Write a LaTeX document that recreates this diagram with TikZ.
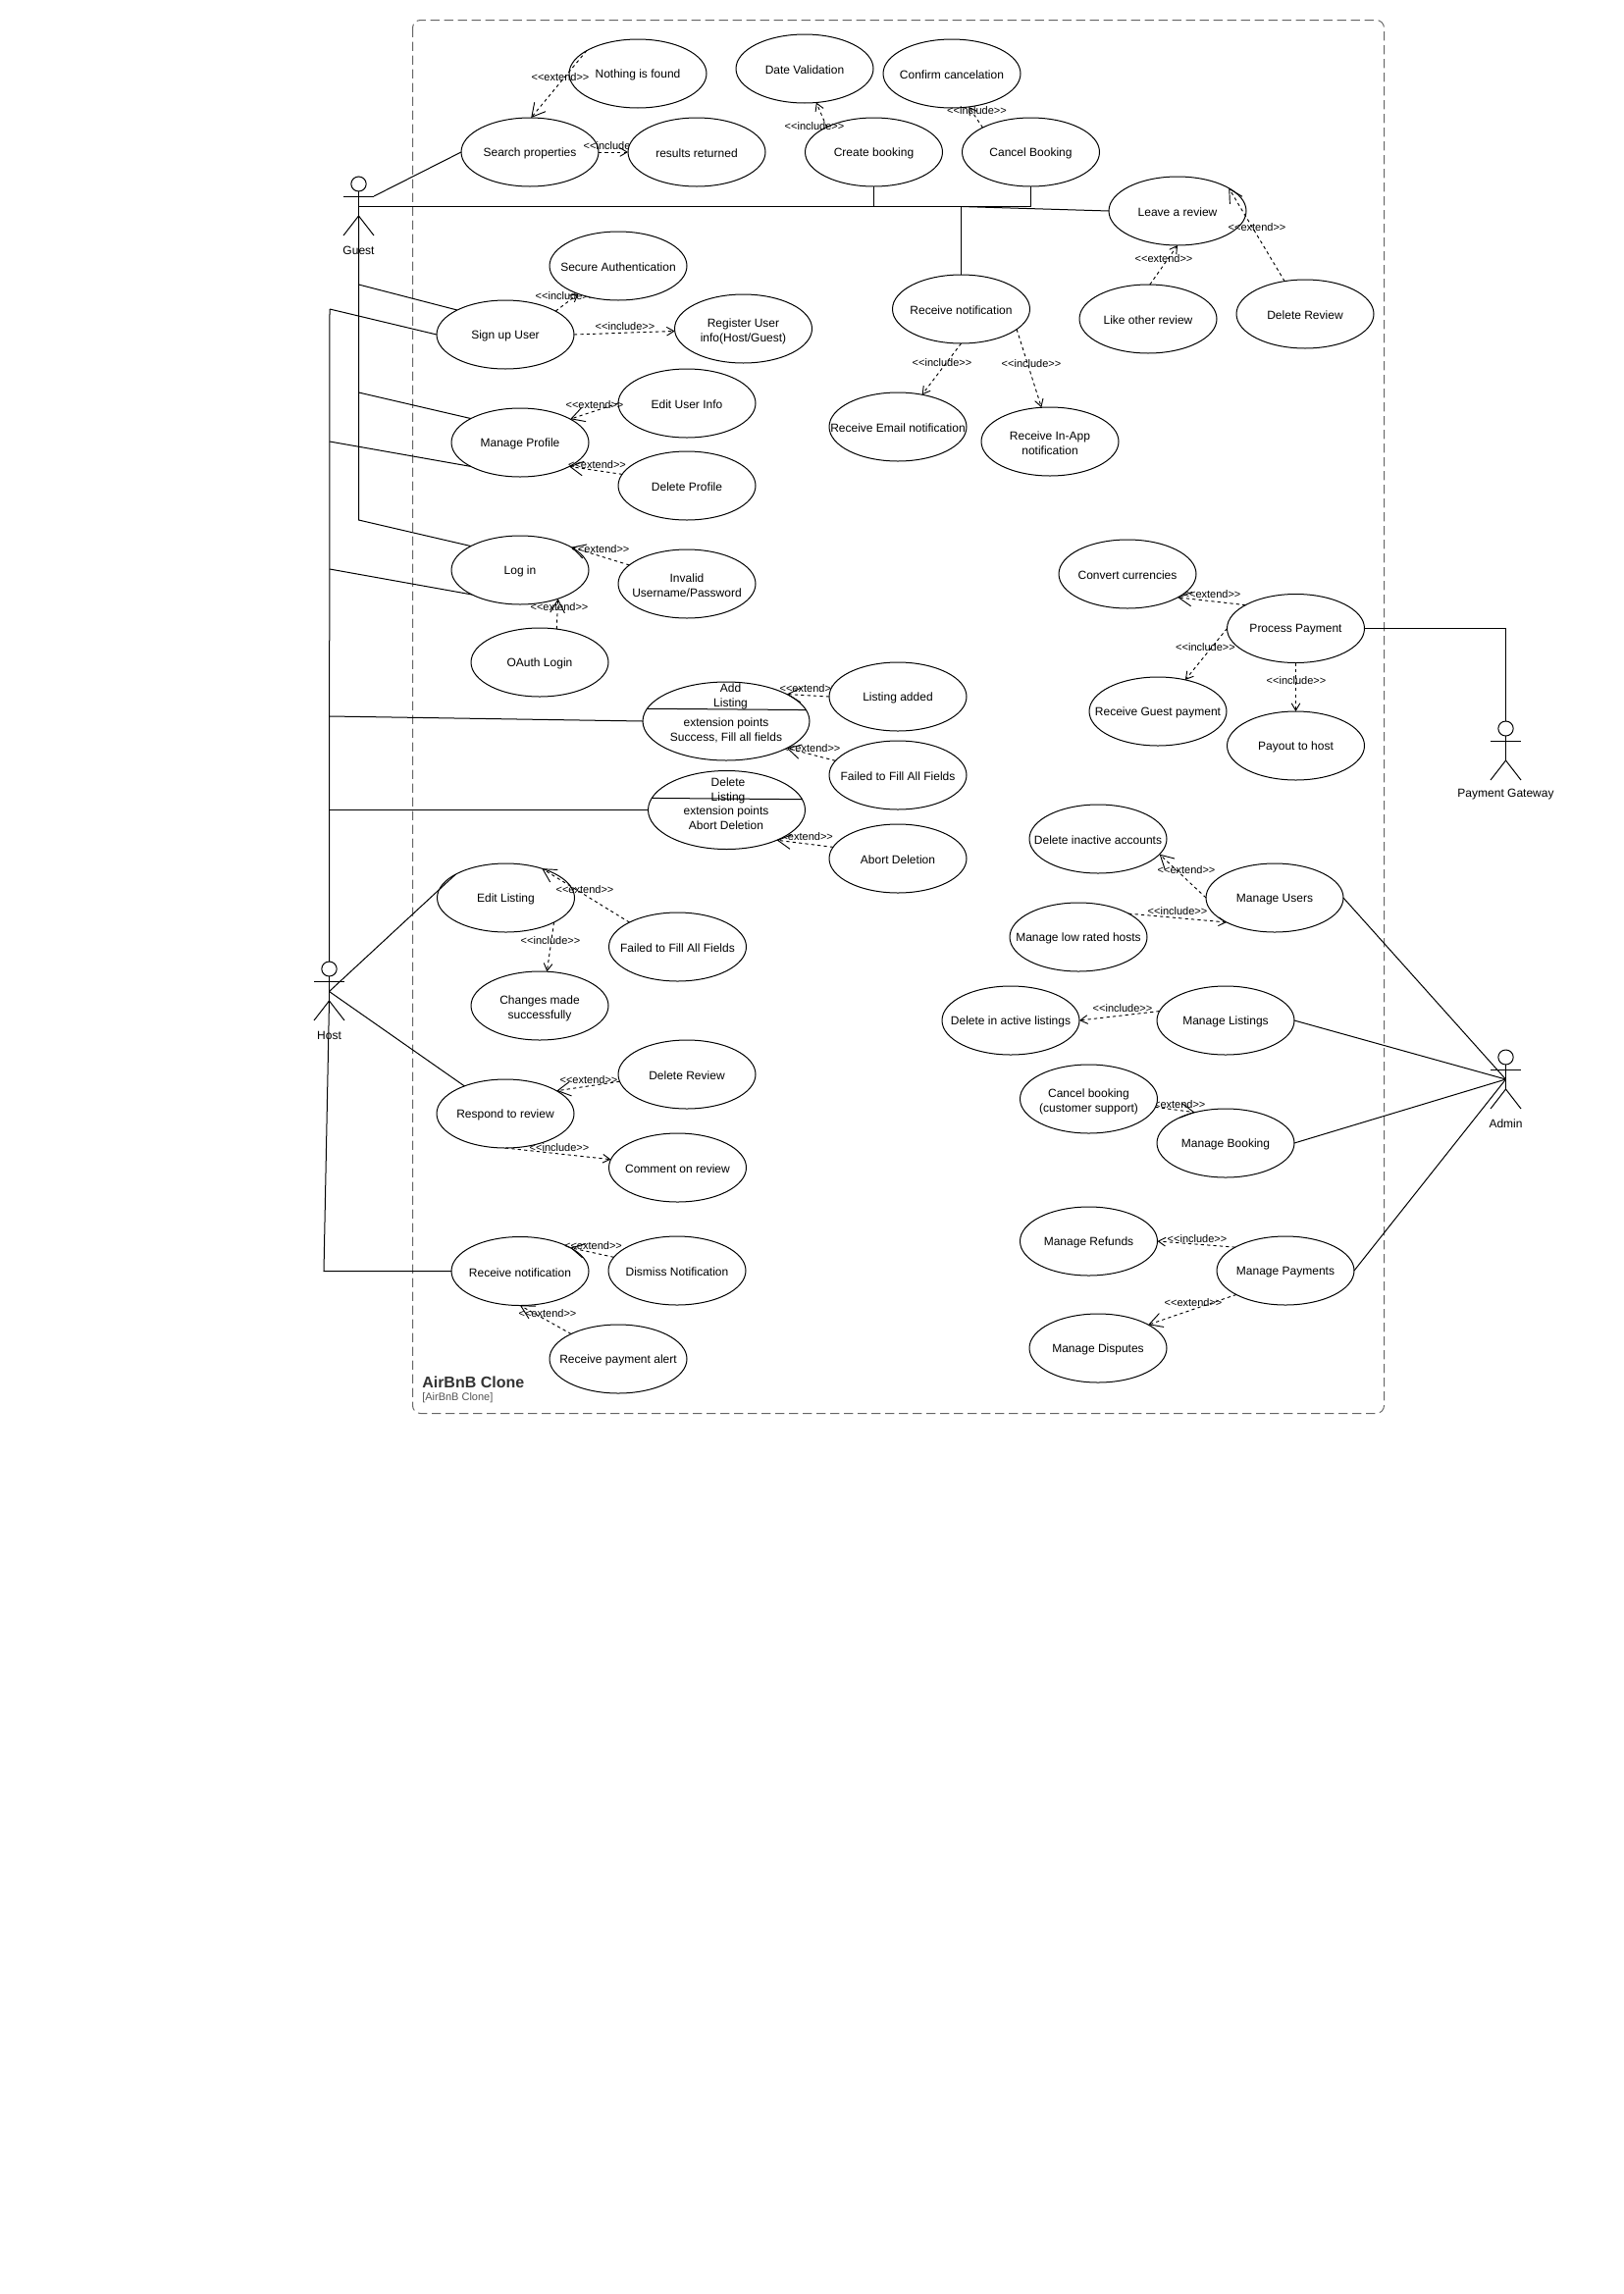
\documentclass[tikz,border=0pt]{standalone}
\usepackage{fontspec}
\setmainfont{Liberation Sans}
\usetikzlibrary{shapes.geometric,arrows.meta}
\definecolor{framegrey}{HTML}{666666}
\definecolor{titlegrey}{HTML}{333333}
\definecolor{subgrey}{HTML}{555555}
\newcommand\ucase[5][]{\node[ucshape,#1] (#2) at (#3,#4) {};
  \node[inner] (#2text) at (#3,#4+1.5) {#5};}
\newcommand\ucasetwo[6]{\node[ucshape] (#1) at (#2,#3) {};
  \node[inner] (#1text) at (#2,#3+3) {\begin{tabular}{@{}c@{}}#4\\#5\end{tabular}};}
\newcommand\lbl[4]{\node[stereo] (#1) at (#2,#3+1.5) {#4};}
\newcommand\ext{<\kern0pt<extend>\kern0pt>}
\newcommand\inc{<\kern0pt<include>\kern0pt>}
% name, centre x, top y, label
\newcommand\actorfig[4]{%
  \node[head] (#1head) at (#2,#3+7.5) {};
  \coordinate (#1neck) at (#2,#3+15);
  \coordinate (#1hip) at (#2,#3+40);
  \coordinate (#1armL) at (#2-15.5,#3+20);
  \coordinate (#1armR) at (#2+15.5,#3+20);
  \coordinate (#1legL) at (#2-15.5,#3+60);
  \coordinate (#1legR) at (#2+15.5,#3+60);
  \draw[solidline] (#1head.south) -- (#1hip);
  \draw[solidline] (#1armL) -- (#1armR);
  \draw[solidline] (#1legL) -- (#1hip) -- (#1legR);
  \node[actorlabel] (#1label) at (#2,#3+75) {#4};
}
\tikzset{
  solidline/.style={draw=black,line width=0.75pt},
  ucshape/.style={ellipse,draw=black,fill=white,line width=0.75pt,minimum width=105pt,minimum height=52.5pt,inner sep=0pt,outer sep=0pt},
  head/.style={ellipse,draw=black,fill=white,line width=0.75pt,minimum width=11.5pt,minimum height=11.25pt,inner sep=0pt,outer sep=0pt},
  actorlabel/.style={inner sep=0pt,font=\fontsize{9}{11.25}\selectfont},
  inner/.style={inner sep=0pt,font=\fontsize{9}{11.25}\selectfont},
  stereo/.style={inner sep=0pt,font=\fontsize{8.25}{10}\selectfont},
  dep/.style={draw=black,line width=0.7pt,dash pattern=on 2.4pt off 2.4pt},
  bigarrow/.style={dep,-{Straight Barb[length=10pt,width=11pt]}},
  smallarrow/.style={dep,-{Straight Barb[length=5.5pt,width=6.5pt]}},
  frame/.style={draw=framegrey,line width=0.75pt,dash pattern=on 7pt off 3.5pt,rounded corners=6pt},
}
\begin{document}
\begin{tikzpicture}[x=0.75pt,y=-0.75pt]
\useasboundingbox (0,0) rectangle (1654,2338);
\fill[white] (0,0) rectangle (1654,2338);
\draw[frame] (420.5,20.5) rectangle (1410.5,1440.5);
\node[inner sep=0pt,anchor=west,text=titlegrey,font=\bfseries\fontsize{12}{14}\selectfont] (title) at (430,1409) {AirBnB Clone};
\node[inner sep=0pt,anchor=west,text=subgrey,font=\fontsize{8.25}{10}\selectfont] (subtitle) at (430,1425) {[AirBnB Clone]};

% use cases (labels hidden in part by a later ellipse come just before it)
\ucase{nothing}{650}{75}{Nothing is found}
\ucase{date}{820}{70}{Date Validation}
\ucase{confirm}{970}{75}{Confirm cancelation}
\ucase{search}{540}{155}{Search properties}
\lbl{lresults}{625}{147}{\inc}
\ucase{results}{710}{155}{results returned}
\ucase{create}{890.5}{155}{Create booking}
\ucase{cancel}{1050.5}{155}{Cancel Booking}
\ucase{leave}{1200}{215}{Leave a review}
\ucase{recv}{979.5}{315}{Receive notification}
\ucase{like}{1170}{325}{Like other review}
\ucase{delrev}{1330}{320}{Delete Review}
\ucase{email}{915}{435}{Receive Email notification}
\ucasetwo{inapp}{1070}{450}{Receive In-App}{notification}{}
\lbl{lsecure}{576}{300}{\inc}
\ucase{secure}{630}{271}{Secure Authentication}
\ucase{signup}{515}{341}{Sign up User}
\ucasetwo{register}{757.5}{335}{Register User}{info(Host/Guest)}{}
\ucase{edituser}{700}{411}{Edit User Info}
\ucase{profile}{530}{451}{Manage Profile}
\ucase{delprofile}{700}{495}{Delete Profile}
\ucase{login}{530}{581}{Log in}
\ucasetwo{invalid}{700}{595}{Invalid}{Username/Password}{}
\ucase{oauth}{550}{675}{OAuth Login}
\lbl{lfailed}{827}{761}{\ext}
\ucase[minimum width=127.5pt,minimum height=60pt]{addl}{740}{735}{}
\lbl{ladded}{824}{700}{\ext}
\ucase{added}{915}{710}{Listing added}
\ucase{failed}{915}{790}{Failed to Fill All Fields}
\lbl{labort}{819.5}{851}{\ext}
\ucase[minimum width=120pt,minimum height=60pt]{dell}{740.5}{825.5}{}
\ucase{abort}{915}{875}{Abort Deletion}
\ucase{editl}{515.5}{915}{Edit Listing}
\ucase{failedb}{690.5}{965}{Failed to Fill All Fields}
\ucasetwo{changes}{550}{1025}{Changes made}{successfully}{}
\ucase{delrevb}{700}{1095}{Delete Review}
\ucase{respond}{515}{1135}{Respond to review}
\ucase{comment}{690.5}{1190}{Comment on review}
\ucase{recvb}{530}{1295.5}{Receive notification}
\ucase{dismiss}{690}{1295}{Dismiss Notification}
\ucase{alert}{630}{1385}{Receive payment alert}
\lbl{lconvert}{1235}{604}{\ext}
\ucase{convert}{1149}{585}{Convert currencies}
\ucase{process}{1320.5}{640.5}{Process Payment}
\ucase{guestpay}{1180}{725}{Receive Guest payment}
\ucase{payout}{1320.5}{760}{Payout to host}
\ucase{inactive}{1119}{855}{Delete inactive accounts}
\ucase{users}{1299}{915}{Manage Users}
\ucase{lowrated}{1099}{955}{Manage low rated hosts}
\ucase{dellist}{1030}{1040}{Delete in active listings}
\ucase{listings}{1249}{1040}{Manage Listings}
\lbl{lcs}{1199}{1124}{\ext}
\ucasetwo{cancelcs}{1109.5}{1120}{Cancel booking}{(customer support)}{}
\ucase{booking}{1249}{1165}{Manage Booking}
\ucase{refunds}{1109.5}{1265}{Manage Refunds}
\ucase{payments}{1310}{1295}{Manage Payments}
\ucase{disputes}{1119}{1374}{Manage Disputes}

% compartments of the two extension-point use cases
\draw[solidline] (addl.171.8) -- (addl.8.3);
\draw[solidline] (dell.171) -- (dell.8.8);
\node[inner] (addt) at (744.5,709.5) {\begin{tabular}{@{}c@{}}Add\\Listing\end{tabular}};
\node[inner] (addx) at (740,744.5) {\begin{tabular}{@{}c@{}}extension points\\Success, Fill all fields\end{tabular}};
\node[inner] (delt) at (742,805.5) {\begin{tabular}{@{}c@{}}Delete\\Listing\end{tabular}};
\node[inner] (delx) at (740,834.5) {\begin{tabular}{@{}c@{}}extension points\\Abort Deletion\end{tabular}};

% actors
\actorfig{guest}{365.5}{180}{Guest}
\actorfig{host}{335.5}{980}{Host}
\actorfig{gateway}{1534.5}{735}{Payment Gateway}
\actorfig{admin}{1534.5}{1070}{Admin}

% guest associations
\coordinate (gtrunk) at (365.5,210.5);
\coordinate (gjoin) at (979.5,210.5);
\coordinate (gsign) at (365.5,290);
\coordinate (gprof) at (365.5,400);
\coordinate (glog) at (365.5,530);
\draw[solidline] (guestarmR) -- (search.west);
\draw[solidline] (gtrunk) -| (create.south);
\draw[solidline] (gtrunk) -| (cancel.south);
\draw[solidline] (gjoin) -- (leave.west);
\draw[solidline] (gjoin) -- (recv.north);
\draw[solidline] (guesthip) -- (glog) -- (login.154);
\draw[solidline] (gsign) -- (signup.153);
\draw[solidline] (gprof) -- (profile.154);

% host associations
\coordinate (htop) at (336,315);
\coordinate (hprof) at (336,450);
\coordinate (hlog) at (336,580);
\coordinate (hadd) at (336,730);
\coordinate (hdel) at (336,825.5);
\coordinate (hcentre) at (335.5,1010.5);
\coordinate (hcorner) at (330,1295.5);
\draw[solidline] (htop) -- (hosthead.north);
\draw[solidline] (htop) -- (signup.west);
\draw[solidline] (hprof) -- (profile.206);
\draw[solidline] (hlog) -- (login.207);
\draw[solidline] (hadd) -- (addl.west);
\draw[solidline] (hdel) -- (dell.west);
\draw[solidline] (hcentre) -- (editl.155.5);
\draw[solidline] (hcentre) -- (respond.146);
\draw[solidline] (hosthip) -- (hcorner) -- (recvb.west);

% gateway and admin associations
\draw[solidline] (process.east) -| (gatewayhead.north);
\coordinate (acentre) at (1534.5,1100);
\draw[solidline] (users.east) -- (acentre);
\draw[solidline] (listings.east) -- (acentre);
\draw[solidline] (booking.east) -- (acentre);
\draw[solidline] (payments.east) -- (acentre);

% dependencies
\draw[bigarrow] (nothing.156.5) -- (search.88);
\draw[smallarrow] (search.east) -- (results.west);
\draw[smallarrow] (create.152.6) -- (date.-71);
\draw[smallarrow] (cancel.153) -- (confirm.-63);
\draw[smallarrow] (like.87) -- (leave.south);
\draw[bigarrow] (delrev.122.5) -- (leave.24);
\draw[smallarrow] (recv.south) -- (email.53);
\draw[smallarrow] (recv.-20) -- (inapp.104);
\draw[smallarrow] (signup.25) -- (secure.215);
\draw[smallarrow] (signup.east) -- (register.182.5);
\draw[bigarrow] (edituser.west) -- (profile.25);
\draw[bigarrow] (delprofile.170) -- (profile.-26);
\draw[bigarrow] (invalid.162) -- (login.24);
\draw[bigarrow] (oauth.63) -- (login.-37.5);
\draw[bigarrow] (added.west) -- (addl.24);
\draw[bigarrow] (failed.167.7) -- (addl.-24);
\draw[bigarrow] (abort.170) -- (dell.-31);
\draw[bigarrow] (failedb.153) -- (editl.39.5);
\draw[smallarrow] (editl.-27.4) -- (changes.78);
\draw[bigarrow] (delrevb.186.6) -- (respond.24.3);
\draw[smallarrow] (respond.south) -- (comment.173);
\draw[bigarrow] (dismiss.168.5) -- (recvb.25.7);
\draw[bigarrow] (alert.152) -- (recvb.south);
\draw[bigarrow] (process.155) -- (convert.-25);
\draw[smallarrow] (process.west) -- (guestpay.49);
\draw[smallarrow] (process.south) -- (payout.north);
\draw[bigarrow] (users.west) -- (inactive.-14);
\draw[smallarrow] (lowrated.25.8) -- (users.207);
\draw[smallarrow] (listings.172.6) -- (dellist.east);
\draw[bigarrow] (cancelcs.-7.6) -- (booking.135.5);
\draw[smallarrow] (payments.155) -- (refunds.east);
\draw[bigarrow] (payments.206.7) -- (disputes.25);

% stereotype labels
\lbl{lnothing}{571}{77}{\ext}
\lbl{ldate}{830}{127}{\inc}
\lbl{lconfirm}{995.5}{111}{\inc}
\lbl{llike}{1186}{262}{\ext}
\lbl{ldelrev}{1281}{230}{\ext}
\lbl{lemail}{960}{368}{\inc}
\lbl{linapp}{1051}{369}{\inc}
\lbl{lregister}{637}{331}{\inc}
\lbl{ledituser}{606}{411}{\ext}
\lbl{ldelprofile}{608.5}{472}{\ext}
\lbl{linvalid}{612}{558}{\ext}
\lbl{loauth}{570}{617}{\ext}
\lbl{lfailedb}{596}{905}{\ext}
\lbl{lchanges}{561}{957}{\inc}
\lbl{ldelrevb}{600}{1099}{\ext}
\lbl{lcomment}{570}{1168}{\inc}
\lbl{ldismiss}{604.5}{1268}{\ext}
\lbl{lalert}{558}{1337}{\ext}
\lbl{lguestpay}{1228.5}{658}{\inc}
\lbl{lpayout}{1321}{692}{\inc}
\lbl{linactive}{1209}{885}{\ext}
\lbl{llowrated}{1200}{927}{\inc}
\lbl{ldellist}{1144}{1026}{\inc}
\lbl{lrefunds}{1220}{1261}{\inc}
\lbl{ldisputes}{1216}{1326}{\ext}
\end{tikzpicture}
\end{document}
